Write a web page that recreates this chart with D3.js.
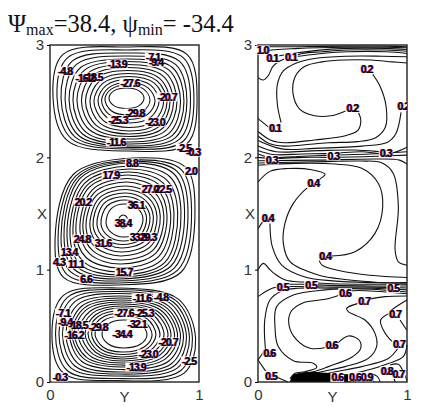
<!DOCTYPE html>
<html>
<head>
<meta charset="utf-8">
<script src="https://cdn.jsdelivr.net/npm/d3@7/dist/d3.min.js"></script>
<style>
html,body{margin:0;padding:0;background:#fff;width:430px;height:415px;overflow:hidden}
svg{display:block}
.tick text,.axt{font-family:"Liberation Sans",Arial,sans-serif;font-size:15px;fill:#333}
.lab{font-family:"Liberation Sans",Arial,sans-serif;font-size:10.5px;font-weight:700;letter-spacing:-.95px;text-anchor:middle;dominant-baseline:central}
.ink{fill:#000;text-shadow:-.6px 0 rgba(255,0,0,.7),.6px 0 rgba(0,0,255,.7)}
</style>
</head>
<body>
<svg id="c" width="430" height="415"></svg>
<script>
const xTicks=[0,1,2,3];
const yTicks=[0,1];

// Left panel: stream function contours, outer to inner, edges in axis units
const topLevels =[-0.3,-2.5,-4.8,-7.1,-9.4,-11.6,-13.9,-16.2,-18.5,-20.7,-23.0,-25.3,-27.6,-29.8,-32.1];
const topLeft   =[.020,.047,.074,.101,.128,.154,.181,.211,.238,.268,.295,.322,.346,.369,.396];
const topRight  =[.987,.966,.943,.919,.899,.876,.852,.829,.805,.785,.762,.732,.705,.671,.631];
const topLow    =[2.056,2.074,2.088,2.101,2.119,2.137,2.163,2.186,2.208,2.234,2.266,2.306,2.337,2.377,2.435];
const topHigh   =[2.982,2.956,2.929,2.902,2.876,2.853,2.827,2.800,2.773,2.746,2.720,2.693,2.666,2.644,2.617];

const midLevels =[2.0,4.3,6.6,8.8,11.1,13.4,15.7,17.9,20.2,22.5,24.8,27.0,29.3,31.6,33.8,36.1,38.4];
const midLeft   =[.034,.054,.074,.094,.114,.134,.154,.174,.201,.221,.242,.268,.289,.315,.342,.376,.46];
const midRight  =[.973,.950,.926,.903,.879,.857,.832,.810,.785,.764,.740,.718,.694,.671,.648,.624,.523];
const midLow    =[.864,.881,.899,.917,.935,.953,.979,1.015,1.050,1.086,1.122,1.157,1.193,1.224,1.255,1.291,1.371];
const midHigh   =[1.994,1.976,1.963,1.950,1.923,1.896,1.869,1.843,1.811,1.780,1.745,1.714,1.683,1.651,1.620,1.585,1.487];

const lowLevels =[-0.3,-2.5,-4.8,-7.1,-9.4,-11.6,-13.9,-16.2,-18.5,-20.7,-23.0,-25.3,-27.6,-29.8,-32.1];
const lowLeft   =[.013,.037,.060,.084,.107,.131,.148,.164,.188,.211,.235,.255,.279,.302,.349];
const lowRight  =[.977,.956,.936,.916,.896,.876,.856,.836,.812,.792,.765,.738,.711,.685,.651];
const lowLow    =[.013,.031,.053,.071,.089,.111,.134,.151,.169,.187,.205,.223,.245,.267,.303];
const lowHigh   =[.837,.823,.806,.788,.765,.748,.730,.712,.694,.677,.659,.637,.614,.588,.552];

const leftLabels=[
["-4.8",.101,2.768],["-7.1",.691,2.893],["-9.4",.711,2.848],["-13.9",.450,2.830],["-16.2",.235,2.706],["-18.5",.289,2.715],
["-27.6",.537,2.661],["-20.7",.785,2.537],["-29.8",.570,2.394],["-25.3",.456,2.332],["-23.0",.705,2.314],["-11.6",.443,2.136],["-2.5",.899,2.083],["-0.3",.960,2.047],
["8.8",.550,1.949],["2.0",.946,1.878],["17.9",.409,1.842],["27.0",.671,1.718],["22.5",.758,1.718],["20.2",.221,1.602],["36.1",.577,1.575],["38.4",.490,1.415],
["33.8",.591,1.291],["29.3",.658,1.291],["24.8",.215,1.273],["31.6",.356,1.237],["13.4",.128,1.157],["4.3",.060,1.068],["11.1",.174,1.050],["15.7",.497,.979],["6.6",.242,.917],
["-11.6",.617,.748],["-4.8",.745,.757],["-7.1",.087,.614],["-27.6",.497,.614],["-25.3",.631,.614],["-9.4",.101,.534],["-18.5",.188,.507],["-29.8",.322,.490],["-32.1",.584,.516],
["-16.2",.161,.418],["-34.4",.483,.427],["-20.7",.792,.356],["-23.0",.658,.249],["-2.5",.933,.187],["-13.9",.577,.134],["-0.3",.067,.045]];

// Right panel: contours read as [Y, X] points along each line
const rightLines=[
[[0,2.985],[.27,2.985],[.6,2.99],[.86,2.99],[1,2.985]],
[[.01,2.93],[.05,2.95],[.27,2.97],[.6,2.98],[.86,2.98],[1,2.975]],
[[.06,2.88],[.19,2.915],[.38,2.95],[.6,2.97],[.86,2.97],[1,2.96]],
[[.22,2.89],[.3,2.925],[.43,2.94],[.6,2.955],[.86,2.955],[1,2.945]],
[[0,2.71],[.036,2.688],[.07,2.73],[.1,2.81],[.15,2.86],[.2,2.885],[.3,2.905],[.43,2.925],[.6,2.94],[.86,2.94],[1,2.925]],
[[.155,2.31],[.13,2.47],[.13,2.65],[.17,2.77],[.25,2.836],[.38,2.88],[.6,2.9],[.83,2.9],[1,2.895]],
[[.60,2.42],[.49,2.37],[.38,2.37],[.28,2.43],[.235,2.57],[.25,2.72],[.315,2.81],[.43,2.85],[.58,2.866],[.76,2.866],[.9,2.85],[1,2.84]],
[[.77,2.74],[.82,2.63],[.86,2.45],[.855,2.27],[.79,2.175],[.67,2.14],[.47,2.13],[.3,2.11],[.17,2.1],[.08,2.12],[0,2.19]],
[[.67,2.41],[.69,2.33],[.67,2.24],[.58,2.19],[.38,2.155],[.18,2.13],[.09,2.15],[0,2.23]],
[[0,2.345],[.08,2.26]],
[[.96,2.4],[.925,2.21],[.87,2.135],[.7,2.1],[.38,2.08],[.16,2.075],[0,2.15]],
[[0,2.1],[.12,2.05],[.4,2.06],[.65,2.065],[.82,2.05],[.9,2.04],[1,2.09]],
[[0,2.06],[.1,2.025],[.3,2.03],[.5,2.035],[.7,2.05],[.82,2.03]],
[[0,2.03],[.08,2.0],[.3,2.01],[.5,2.02],[.75,2.03],[1,2.05]],
[[0,2.0],[.1,1.99],[.3,2.0],[.5,2.0],[.8,2.01],[1,2.02]],
[[0,1.97],[.4,1.975],[.8,1.985],[.95,1.975],[1,1.94]],
[[0,1.95],[.383,1.96],[.696,1.967],[.83,1.952],[.908,1.857],[.942,1.56],[.92,1.175],[.942,1.07],[1,1.04]],
[[.494,1.121],[.651,1.16],[.785,1.323],[.837,1.56],[.808,1.768],[.696,1.902],[.517,1.94],[.25,1.946],[0,1.93]],
[[0,1.78],[.08,1.875],[.2,1.9],[.36,1.89],[.45,1.85],[.42,1.81],[.371,1.768],[.333,1.733],[.237,1.59],[.181,1.412],[.17,1.234],[.215,1.071],[.405,.952],[.6,.91],[1,.87]],
[[.409,1.09],[.43,1.04],[.55,.99],[.75,.95],[1,.93]],
[[0,1.365],[.03,1.425]],
[[.08,1.412],[.096,1.205],[.159,1.041],[.315,.935],[.5,.9],[.75,.885],[1,.885]],
[[0,1.0],[.036,1.056],[.08,1.0],[.115,.96],[.19,.905],[.3,.89],[.5,.875],[.75,.87],[1,.872]],
[[.12,.87],[.3,.87],[.5,.86],[.76,.855],[1,.855]],
[[0,.76],[.07,.82],[.13,.845],[.25,.85],[.5,.845],[.76,.845],[1,.837]],
[[.05,.29],[.045,.55],[.08,.73],[.16,.81],[.27,.835],[.5,.835],[.76,.835],[1,.82]],
[[.215,.03],[.248,.077],[.315,.092],[.394,.13],[.371,.166],[.237,.19],[.136,.315],[.114,.493],[.125,.671],[.237,.775],[.45,.82],[.6,.83],[.76,.825],[1,.801]],
[[.494,.326],[.461,.309],[.349,.3],[.26,.374],[.208,.507],[.221,.626],[.304,.706],[.45,.736],[.55,.775],[.62,.81],[.76,.81],[1,.785]],
[[.528,.338],[.606,.41],[.678,.374],[.689,.3],[.629,.22],[.472,.137],[.371,.092],[.3,.08]],
[[.673,.7],[.595,.656],[.606,.626],[.718,.552],[.785,.433],[.796,.315],[.74,.21],[.584,.137],[.427,.092],[.36,.07]],
[[.74,.735],[.85,.76],[1,.766]],
[[.883,.612],[.823,.552],[.841,.463],[.904,.359],[.946,.335],[.931,.285],[.875,.21],[.696,.137],[.472,.077],[.383,.04]],
[[.953,.552],[.998,.463]],
[[.895,.64],[.95,.69],[1,.73]],
[[1,.33],[.975,.225],[.875,.165],[.718,.1],[.58,.06]],
[[.886,.152],[.942,.158],[.975,.092],[1,.01]],
[[.92,0],[.91,.05]],
[[.78,0],[.75,.04],[.7,.06],[.66,.04],[.64,0]],
[[.82,0],[.80,.05],[.72,.085],[.63,.07]],
[[.05,.29],[0,.196]],
[[0,.196],[.055,.09]],
[[.12,.047],[.2,0]]];
const blobOutline=[[.213,0],[.24,.07],[.36,.09],[.483,.08],[.606,.065],[.624,0]];

const rightLabels=[
["1.0",.031,2.955],["0.1",.096,2.881],["0.1",.221,2.89],["0.2",.729,2.783],["0.2",.633,2.436],["0.2",.975,2.457],["0.1",.114,2.258],["0.3",.857,2.035],
["0.3",.092,1.976],["0.3",.506,2.012],["0.4",.371,1.768],["0.4",.065,1.463],["0.4",.45,1.121],
["0.5",.166,.843],["0.5",.356,.866],["0.6",.584,.795],["0.5",.908,.834],["0.7",.713,.724],["0.7",.92,.602],["0.7",.946,.335],["0.6",.494,.326],["0.6",.076,.255],
["0.5",.087,.057],["0.6",.532,.042],["0.6",.651,.048],["0.9",.729,.048],["0.8",.864,.098],["0.7",.942,.068]];

const svg=d3.select("#c");
const xScale=d3.scaleLinear().domain([0,3]).range([382,45]);
const yLeft=d3.scaleLinear().domain([0,1]).range([50,199]);
const yRight=d3.scaleLinear().domain([0,1]).range([258,407]);

const closed=d3.line().curve(d3.curveCatmullRomClosed.alpha(.5));
function ring(y,l,r,lo,hi,t,sh){
  const x0=y(l),x1=y(r),yT=xScale(hi),yB=xScale(lo),cx=(x0+x1)/2,cy=(yT+yB)/2,a=(x1-x0)/2,b=(yB-yT)/2;
  const f=k=>.72+(k-.72)*Math.pow(1-t,1.7);
  const s=v=>v*(1-t*.5);
  return [
   [x1,cy+s(sh.r)*b],[cx+f(sh.tr)*a,cy-f(sh.tr)*b],[cx+s(sh.t)*a,yT],[cx-f(sh.tl)*a,cy-f(sh.tl)*b],
   [x0,cy+s(sh.l)*b],[cx-f(sh.bl)*a,cy+f(sh.bl)*b],[cx+s(sh.b)*a,yB],[cx+f(sh.br)*a,cy+f(sh.br)*b]];
}
const cells=[
 {lv:topLevels,l:topLeft,r:topRight,lo:topLow,hi:topHigh,sh:{tl:.86,tr:.86,br:.86,bl:.80,t:0,b:.05,l:-.05,r:0}},
 {lv:midLevels,l:midLeft,r:midRight,lo:midLow,hi:midHigh,sh:{tl:.74,tr:.86,br:.80,bl:.88,t:.12,b:-.1,l:.28,r:-.2}},
 {lv:lowLevels,l:lowLeft,r:lowRight,lo:lowLow,hi:lowHigh,sh:{tl:.84,tr:.76,br:.84,bl:.84,t:-.1,b:-.1,l:0,r:.1}}];
const gL=svg.append("g").attr("fill","none").attr("stroke","#111").attr("stroke-width",1.1);
cells.forEach(c=>{
  gL.selectAll(null).data(c.lv).enter().append("path").attr("d",(d,i)=>
    closed(ring(yLeft,c.l[i],c.r[i],c.lo[i],c.hi[i],i/(c.lv.length-1),c.sh)));
});

const open=d3.line().x(d=>yRight(d[0])).y(d=>xScale(d[1])).curve(d3.curveCatmullRom.alpha(.5));
const gR=svg.append("g").attr("fill","none").attr("stroke","#111").attr("stroke-width",1.1);
gR.selectAll(null).data(rightLines).enter().append("path").attr("d",open);
svg.append("path").attr("d",d3.line().x(d=>yRight(d[0])).y(d=>xScale(d[1])).curve(d3.curveMonotoneX)(blobOutline)).attr("fill","#000");

function frame(y){
  svg.append("rect").attr("x",y(0)).attr("y",xScale(3)).attr("width",y(1)-y(0)).attr("height",xScale(0)-xScale(3))
    .attr("fill","none").attr("stroke","#222").attr("stroke-width",1.4);
  const left=svg.append("g").attr("transform",`translate(${y(0)},0)`).call(d3.axisLeft(xScale).tickValues(xTicks).tickSize(3).tickPadding(3).tickFormat(d3.format("d")));
  left.select(".domain").remove();
  const bot=svg.append("g").attr("transform",`translate(0,${xScale(0)})`).call(d3.axisBottom(y).tickValues(yTicks).tickSize(0).tickPadding(7).tickFormat(d3.format("d")));
  bot.select(".domain").remove();
  svg.append("text").attr("class","axt").attr("x",y(0)-8).attr("y",219).attr("text-anchor","middle").text("X");
  svg.append("text").attr("class","axt").attr("x",y(.5)).attr("y",402).attr("text-anchor","middle").text("Y");
}
frame(yLeft);frame(yRight);

svg.append("clipPath").attr("id","rc").append("rect").attr("x",250).attr("y",40).attr("width",157).attr("height",345);
function labels(rows,y,clip){
  const g=svg.append("g");
  if(clip)g.attr("clip-path","url(#rc)");
  const backs=g.selectAll(null).data(rows).enter().append("rect").attr("fill","#fff");
  const inks=g.selectAll(null).data(rows).enter().append("text").attr("class","lab ink").attr("x",d=>y(d[1])).attr("y",d=>xScale(d[2])).text(d=>d[0]);
  inks.each(function(d,i){
    const w=this.getComputedTextLength()+2;
    d3.select(backs.nodes()[i]).attr("x",y(d[1])-w/2).attr("y",xScale(d[2])-4.5).attr("width",w).attr("height",9);
  });
}
labels(leftLabels,yLeft,false);
labels(rightLabels,yRight,true);

const title=svg.append("text").attr("x",8).attr("y",32).attr("font-family","'Liberation Serif','Times New Roman',serif").attr("font-size",24.5).attr("fill","#111");
title.append("tspan").text("Ψ");
title.append("tspan").attr("font-size",16).attr("dy",2.5).text("max");
title.append("tspan").attr("dy",-2.5).text("=38.4, ψ");
title.append("tspan").attr("font-size",16).attr("dy",2.5).text("min");
title.append("tspan").attr("dy",-2.5).text("= -34.4");
</script>
</body>
</html>
